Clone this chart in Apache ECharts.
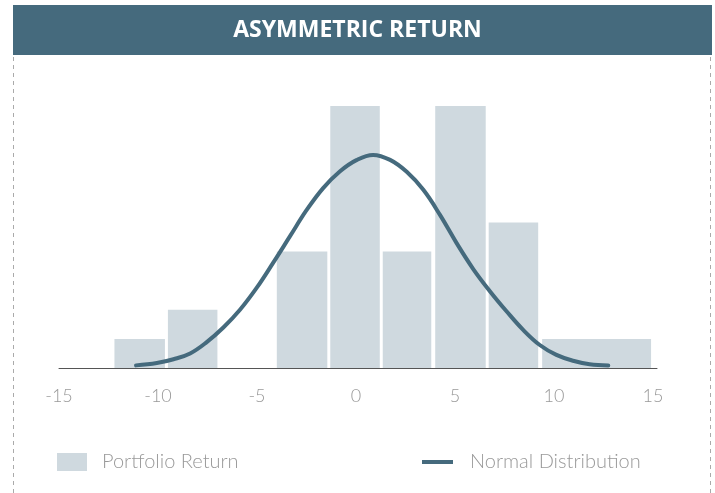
<!DOCTYPE html>
<html>
<head>
<meta charset="utf-8">
<script src="https://cdn.jsdelivr.net/npm/echarts@6/dist/echarts.min.js"></script>
<style>
html,body{margin:0;padding:0;background:#fff;}
#chart{width:715px;height:493px;}
</style>
</head>
<body>
<div id="chart"></div>
<script>
// Histogram bins (return range start / end) and counts
var binStart = [-12.2, -9.5, -4.0, -1.3, 1.35, 4.0, 6.7, 9.4];
var binEnd   = [-9.65, -7.0, -1.45, 1.2, 3.8, 6.55, 9.2, 14.9];
var binCount = [1, 2, 4, 9, 4, 9, 5, 1];

// Normal distribution curve
var curveX = [-11.11, -10.06, -9.22, -8.38, -7.54, -6.70, -5.86, -5.02, -4.18, -3.34, -2.50, -1.66, -0.82, 0.02, 0.86,
              1.72, 2.56, 3.40, 4.24, 5.08, 5.92, 6.76, 7.60, 8.44, 9.28, 10.12, 10.96, 11.80, 12.74];
var curveY = [0.09, 0.17, 0.30, 0.50, 0.89, 1.39, 2.00, 2.75, 3.62, 4.52, 5.42, 6.18, 6.75, 7.14, 7.32,
              7.15, 6.74, 6.12, 5.26, 4.29, 3.40, 2.64, 1.95, 1.31, 0.79, 0.45, 0.25, 0.13, 0.09];

var xTicks = [-15, -10, -5, 0, 5, 10, 15];

var titleText = 'ASYMMETRIC RETURN';
var barName = 'Portfolio Return';
var lineName = 'Normal Distribution';

var DARK = '#456a7d';
var BAR = '#cfd9df';
var GREY = '#999999';
var FONT = 'Lato, "Open Sans", sans-serif';

var barData = binStart.map(function (s, i) { return [s, binEnd[i], binCount[i]]; });
var lineData = curveX.map(function (x, i) { return [x, curveY[i]]; });

var chart = echarts.init(document.getElementById('chart'), null, {renderer: 'canvas'});
chart.setOption({
  animation: false,
  backgroundColor: '#fff',
  graphic: [
    {type: 'rect', z: 0, shape: {x: 13, y: 5, width: 699, height: 50}, style: {fill: DARK}},
    {type: 'line', z: 0, shape: {x1: 13.5, y1: 57, x2: 13.5, y2: 493}, style: {stroke: '#aaaaaa', lineWidth: 1, lineDash: [4, 4]}},
    {type: 'line', z: 0, shape: {x1: 710.5, y1: 57, x2: 710.5, y2: 493}, style: {stroke: '#aaaaaa', lineWidth: 1, lineDash: [4, 4]}}
  ],
  title: {
    text: titleText,
    left: 'center',
    top: 14,
    z: 10,
    textStyle: {color: '#ffffff', fontSize: 23, fontWeight: 'bold', fontFamily: '"Open Sans", Lato, sans-serif'}
  },
  legend: [
    {
      data: [barName], left: 52, top: 447, icon: 'rect', itemWidth: 30, itemHeight: 18,
      textStyle: {color: GREY, fontSize: 20, fontWeight: 300, fontFamily: FONT, padding: [0, 0, 0, 10]}
    },
    {
      data: [lineName], left: 417, top: 447, icon: 'rect', itemWidth: 31, itemHeight: 4,
      textStyle: {color: GREY, fontSize: 20, fontWeight: 300, fontFamily: FONT, padding: [0, 0, 0, 12]}
    }
  ],
  grid: {left: 59, right: 58, top: 106, bottom: 125, containLabel: false},
  xAxis: {
    type: 'value', min: -15, max: 15.2, interval: 5,
    axisLine: {lineStyle: {color: '#555555', width: 1}},
    axisTick: {show: false},
    splitLine: {show: false},
    axisLabel: {
      color: GREY, fontSize: 18, fontWeight: 300, fontFamily: FONT, margin: 19,
      formatter: function (v) { return xTicks.indexOf(v) >= 0 ? String(v) : ''; }
    }
  },
  yAxis: {type: 'value', min: 0, max: 9, show: false},
  series: [
    {
      name: barName,
      type: 'custom',
      color: BAR,
      itemStyle: {color: BAR},
      encode: {x: [0, 1], y: 2},
      data: barData,
      renderItem: function (params, api) {
        var p0 = api.coord([api.value(0), api.value(2)]);
        var p1 = api.coord([api.value(1), 0]);
        return {
          type: 'rect',
          shape: {x: p0[0], y: p0[1], width: p1[0] - p0[0], height: p1[1] - p0[1]},
          style: {fill: BAR}
        };
      },
      z: 2
    },
    {
      name: lineName,
      type: 'line',
      color: DARK,
      data: lineData,
      smooth: 0.4,
      showSymbol: false,
      symbol: 'none',
      lineStyle: {color: DARK, width: 4, cap: 'round'},
      itemStyle: {color: DARK},
      z: 3
    }
  ]
});
</script>
</body>
</html>
